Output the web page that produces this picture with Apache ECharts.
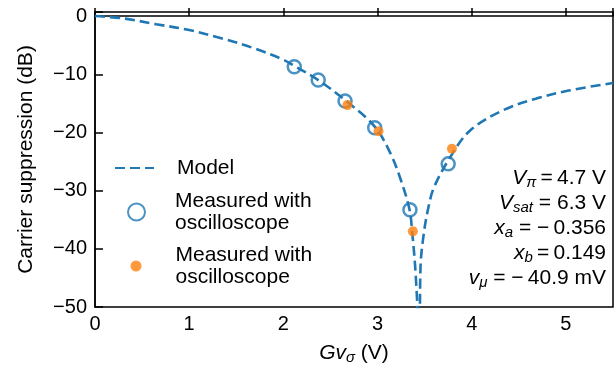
<!DOCTYPE html>
<html>
<head>
    <meta charset="utf-8">
    <script src="https://cdn.jsdelivr.net/npm/echarts@6/dist/echarts.min.js"></script>
    <style>
        html, body { margin: 0; padding: 0; background: #fff; }
    </style>
</head>
<body>
    <div id="main" style="width: 616px;height:372px;"></div>

<script type="text/javascript">
// model curve (null = break at the dip)
var modelX = [0, 0.3, 0.65, 1.0, 1.35, 1.7, 2.0, 2.12, 2.37, 2.66, 2.97, 3.14, 3.25, 3.34, 3.37, 3.40, 3.43, 3.44, 3.45, 3.456, 3.49, 3.54, 3.60, 3.77, 3.98, 4.33, 4.68, 5.03, 5.5];
var modelY = [0, -0.4, -1.4, -2.4, -3.85, -5.6, -7.5, -8.6, -11.0, -14.5, -19.0, -23.7, -28.3, -33.3, -37.5, -43.2, -52, null, -52, -43.2, -37.5, -32.9, -29.4, -24.3, -19.7, -16.2, -14.2, -12.8, -11.5];

// open circles
var circleX = [2.116, 2.37, 2.655, 2.97, 3.344, 3.75];
var circleY = [-8.7, -11.0, -14.6, -19.2, -33.3, -25.4];

// filled orange dots
var dotX = [2.68, 3.01, 3.375, 3.79];
var dotY = [-15.3, -19.8, -37.0, -22.8];

var legendNames = ['Model', 'Measured (circles)', 'Measured (dots)'];
var legendText = 'Measured with\noscilloscope';

// fit parameters box: [symbol, subscript, rest]
var paramLines = [
    ['V', '\u03c0', '\u2009=\u20094.7 V'],
    ['V', 'sat', ' = 6.3 V'],
    ['x', 'a', ' = \u2212\u20090.356'],
    ['x', 'b', '\u2009=\u20090.149'],
    ['v', '\u03bc', ' = \u2212\u200940.9 mV']
];

var blue = '#1f77b4', orange = '#ff7f0e';
var font = "'Liberation Sans', Arial, sans-serif";

function pairs(xs, ys) {
    var out = [];
    for (var i = 0; i < xs.length; i++) out.push([xs[i], ys[i]]);
    return out;
}
function minus(v) {
    return v < 0 ? '\u2212' + (-v) : '' + v;
}

var mathRich = {
    i: { fontFamily: font, fontSize: 21, fontStyle: 'italic', fill: '#000', color: '#000' },
    s: { fontFamily: font, fontSize: 15, fontStyle: 'italic', fill: '#000', color: '#000', padding: [9, 0, 0, 0] },
    n: { fontFamily: font, fontSize: 21, fill: '#000', color: '#000' }
};

var paramText = paramLines.map(function (p, k) {
    return {
        type: 'text', right: 10, top: 168 + k * 25, z: 100,
        style: {
            text: '{i|' + p[0] + '}{s|' + p[1] + '}{n|' + p[2] + '}',
            rich: mathRich
        }
    };
});

var legendFont = { fontFamily: font, fontSize: 21, color: '#000', lineHeight: 22 };

var myChart = echarts.init(document.getElementById('main'));
option = {
    animation: false,
    textStyle: { fontFamily: font, color: '#000' },
    grid: {
        left: 95, top: 12, right: -4, bottom: 65,
        show: true, borderColor: '#000', borderWidth: 1.5
    },
    legend: [
        {
            data: [{ name: legendNames[0], itemStyle: { color: 'rgba(0,0,0,0)', borderWidth: 0 } }],
            left: 114, top: 157, padding: 0,
            itemWidth: 39, itemHeight: 14,
            textStyle: Object.assign({ padding: [0, 0, 0, 18] }, legendFont)
        },
        {
            data: [legendNames[1]], left: 127, top: 190, padding: 0,
            itemWidth: 39, itemHeight: 17,
            formatter: function () { return legendText; },
            textStyle: Object.assign({ padding: [0, 0, 0, 14] }, legendFont)
        },
        {
            data: [legendNames[2]], left: 130.5, top: 244, padding: 0,
            itemWidth: 39, itemHeight: 11,
            formatter: function () { return legendText; },
            textStyle: Object.assign({ padding: [0, 0, 0, 15] }, legendFont)
        }
    ],
    xAxis: {
        type: 'value', min: 0, max: 5.5, interval: 1,
        name: '{i|Gv}{s|\u03c3}{n| (V)}',
        nameLocation: 'middle', nameGap: 34,
        nameTextStyle: { rich: mathRich },
        axisLine: { lineStyle: { color: '#000', width: 1.5 } },
        axisTick: { inside: true, length: 8, lineStyle: { color: '#000', width: 1.5 } },
        axisLabel: {
            fontFamily: font, fontSize: 20, color: '#000', margin: 7,
            formatter: function (v) { return v % 1 === 0 ? '' + v : ''; }
        },
        splitLine: { show: false }
    },
    yAxis: {
        type: 'value', min: -50, max: 0.7, interval: 10,
        name: 'Carrier suppression (dB)',
        nameLocation: 'middle', nameGap: 58,
        nameTextStyle: { fontFamily: font, fontSize: 21, color: '#000' },
        axisLine: { lineStyle: { color: '#000', width: 1.5 } },
        axisTick: { inside: true, length: 8, lineStyle: { color: '#000', width: 1.5 } },
        axisLabel: {
            fontFamily: font, fontSize: 20, color: '#000', margin: 8,
            formatter: function (v) { return v % 10 === 0 ? minus(v) : ''; }
        },
        splitLine: { show: false }
    },
    graphic: paramText,
    series: [
        {
            name: legendNames[0],
            type: 'line',
            data: pairs(modelX, modelY),
            showSymbol: false, symbol: 'none',
            smooth: 0.35,
            connectNulls: false, clip: true,
            lineStyle: { color: blue, width: 2.6, type: [10, 5] },
            itemStyle: { color: blue },
            z: 2
        },
        {
            name: legendNames[1],
            type: 'scatter',
            data: pairs(circleX, circleY),
            symbol: 'circle', symbolSize: 13,
            itemStyle: { color: 'rgba(0,0,0,0)', borderColor: blue, borderWidth: 2.5 },
            z: 3
        },
        {
            name: legendNames[2],
            type: 'scatter',
            data: pairs(dotX, dotY),
            symbol: 'circle', symbolSize: 10,
            itemStyle: { color: orange },
            z: 4
        }
    ]
};

myChart.setOption(option);
</script>
</body>
</html>
